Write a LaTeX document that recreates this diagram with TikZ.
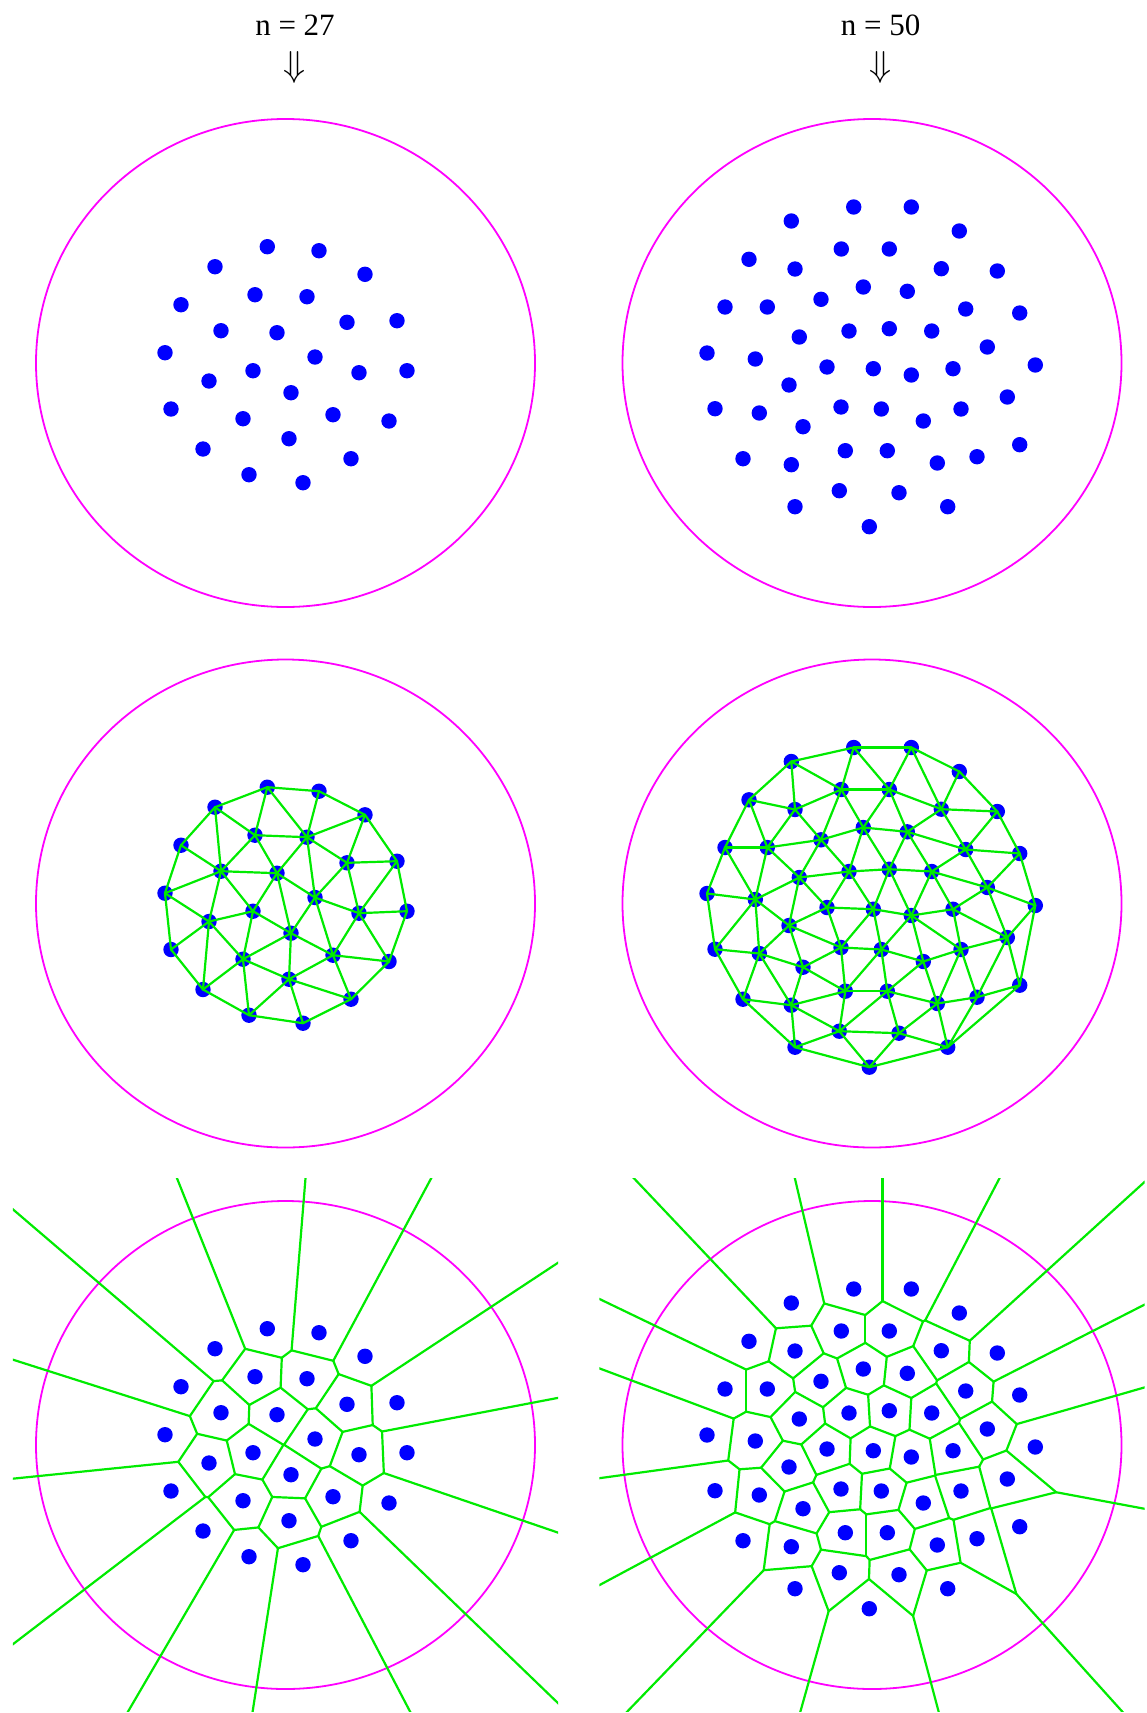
\documentclass[tikz,border=0pt]{standalone}
\usepackage{fontspec}
\usepackage{graphicx}
\setmainfont{Liberation Serif}
\usetikzlibrary{positioning}
\definecolor{siteblue}{RGB}{0,0,255}
\definecolor{linkgreen}{RGB}{0,235,0}
\definecolor{rimpink}{RGB}{255,0,255}
\tikzset{
  rim/.style={draw=rimpink, line width=1.8pt},
  site/.style={fill=siteblue},
  link/.style={draw=linkgreen, line width=2.2pt, line cap=round},
  caption/.style={font=\fontsize{31}{36}\selectfont, inner sep=0pt},
  downmark/.style={font=\fontsize{24.88}{28}\selectfont, inner sep=0pt}
}
\newcommand\bigdown{\scalebox{1.45}{$\Downarrow$}}
\makeatletter
\let\stripdim\strip@pt
\makeatother
\newdimen\sUx \newdimen\sUy \newdimen\sCr \newdimen\sNm
\newdimen\sCut \newdimen\sLo \newdimen\sHi
\let\linkitem\relax

% sites given in pixels, stored relative to the panel centre (rim radius = 1)
\newcommand\loadsites[4]{%
  \foreach \px/\py [count=\k] in {#4}{%
    \pgfmathsetmacro\sx{(\px-#2)/249.5}%
    \pgfmathsetmacro\sy{(#3-\py)/244}%
    \expandafter\xdef\csname #1x\k\endcsname{\sx}%
    \expandafter\xdef\csname #1y\k\endcsname{\sy}%
    \expandafter\xdef\csname #1n\endcsname{\k}%
  }%
}

% neighbour pairs and the piece of their bisector that is a cell wall
\newcommand\buildcells[1]{%
  \global\let\linkitem\relax
  \expandafter\gdef\csname #1edges\endcsname{}%
  \edef\nsites{\csname #1n\endcsname}%
  \pgfmathtruncatemacro\lastsite{\nsites-1}%
  \foreach \i in {1,...,\lastsite}{%
    \pgfmathtruncatemacro\nexti{\i+1}%
    \foreach \j in {\nexti,...,\nsites}{%
      \edef\pX{\csname #1x\i\endcsname}\edef\pY{\csname #1y\i\endcsname}%
      \edef\qX{\csname #1x\j\endcsname}\edef\qY{\csname #1y\j\endcsname}%
      \pgfmathsetmacro\vX{(\qX)-(\pX)}%
      \pgfmathsetmacro\vY{(\qY)-(\pY)}%
      \pgfmathsetmacro\vV{(\vX)*(\vX)+(\vY)*(\vY)}%
      \ifdim\vV pt<0.16pt
        \pgfmathsetmacro\vL{sqrt(\vV)}%
        \pgfmathsetmacro\dX{-(\vY)/\vL}%
        \pgfmathsetmacro\dY{(\vX)/\vL}%
        \global\sLo=-4pt \global\sHi=4pt
        \foreach \k in {1,...,\nsites}{%
          \ifnum\k=\i\relax\else\ifnum\k=\j\relax\else\ifdim\sLo<\sHi
            \sUx=\csname #1x\k\endcsname pt \advance\sUx by -\pX pt
            \sUy=\csname #1y\k\endcsname pt \advance\sUy by -\pY pt
            \sCr=\dX\sUx \advance\sCr by \dY\sUy
            \edef\uA{\stripdim\sUx}\edef\uB{\stripdim\sUy}%
            \sNm=\uA\sUx \advance\sNm by \uB\sUy
            \advance\sNm by -\vX\sUx \advance\sNm by -\vY\sUy
            \ifdim\sCr>0.0005pt
              \sCut=\numexpr\sNm*32768/\sCr\relax sp
              \ifdim\sCut<\sHi \global\sHi=\sCut \fi
            \else\ifdim\sCr<-0.0005pt
              \sCut=\numexpr\sNm*32768/\sCr\relax sp
              \ifdim\sCut>\sLo \global\sLo=\sCut \fi
            \else
              \ifdim\sNm<0pt \global\sLo=5pt \fi
            \fi\fi
          \fi\fi\fi
        }%
        \ifdim\sLo<\sHi
          \edef\tLo{\stripdim\sLo}\edef\tHi{\stripdim\sHi}%
          \pgfmathsetmacro\mX{((\pX)+(\qX))/2}%
          \pgfmathsetmacro\mY{((\pY)+(\qY))/2}%
          \pgfmathsetmacro\aX{\mX+(\tLo)*(\dX)}%
          \pgfmathsetmacro\aY{\mY+(\tLo)*(\dY)}%
          \pgfmathsetmacro\bX{\mX+(\tHi)*(\dX)}%
          \pgfmathsetmacro\bY{\mY+(\tHi)*(\dY)}%
          \expandafter\xdef\csname #1edges\endcsname{\csname #1edges\endcsname
            \linkitem{\i}{\j}{\aX}{\aY}{\bX}{\bY}}%
        \fi
      \fi
    }%
  }%
}

\newcommand\drawsites[2]{%
  \edef\nsites{\csname #1n\endcsname}%
  \foreach \k in {1,...,\nsites}{%
    \coordinate (#1#2-\k) at (\csname #1x\k\endcsname,\csname #1y\k\endcsname);
    \fill[site] (#1#2-\k) circle[radius=7.7pt];
  }%
}
\newcommand\drawlinks[2]{%
  \def\linkitem##1##2##3##4##5##6{\draw[link] (#1#2-##1) -- (#1#2-##2);}%
  \csname #1edges\endcsname
}
\newcommand\drawcells[1]{%
  \def\linkitem##1##2##3##4##5##6{\draw[link] (##3,##4) -- (##5,##6);}%
  \csname #1edges\endcsname
}

\begin{document}
\begin{tikzpicture}[x=1pt, y=-1pt]
  \useasboundingbox (0,0) rectangle (1146,1713);

  \loadsites{L}{285.5}{363}{267.3/246.7, 319/250.7, 215/266.7, 365/274.3,
    181/304.7, 255/294.7, 307/296.7, 221/330.7, 277/332.7, 347/322.3,
    397/320.7, 165/352.7, 315/357, 253/370.7, 209/381, 359/372.7,
    407/370.7, 291/392.7, 171/409, 243/418.7, 333/414.7, 389/421,
    203/449, 289/438.7, 351/458.7, 249/474.7, 303/482.7}
  \loadsites{R}{872}{363}{853.7/207, 911.3/207, 791.3/221, 959.3/231,
    841.3/249, 889.3/249, 749/259.3, 795/269, 941.3/268.7, 997.3/271,
    863.3/287, 907.3/291.3, 821/299.3, 725/307, 767.3/307, 965.7/309,
    1019.7/313, 849/331, 889.3/328.7, 931.7/331, 799.3/337, 987.3/347,
    707/353, 755.3/359, 827/367, 873.3/368.7, 911.3/375, 953/368.7,
    1035.3/365, 789/385, 1007.3/397, 715/408.7, 759.3/413, 841/407,
    881.3/409, 961/409, 923.3/421, 803/426.7, 1019.7/444.7, 743/458.7,
    845.3/450.7, 887.3/450.7, 977/456.7, 791.3/464.7, 937.3/463,
    839.3/490.7, 899/492.7, 795/506.7, 947.7/506.7, 869.3/526.7}
  \buildcells{L}
  \buildcells{R}

  \node[caption, anchor=base] (tL) at (295,35) {n = 27};
  \node[downmark] (dL) at (295,67.7) {\bigdown};
  \node[caption, anchor=base] (tR) at (880.5,35) {n = 50};
  \node[downmark] (dR) at (880.5,67.7) {\bigdown};

  % row 1: the sites
  \begin{scope}[shift={(285.5,363)}, x=249.5pt, y=244pt]
    \draw[rim] (0,0) circle[radius=1];
    \drawsites{L}{1}
  \end{scope}
  \begin{scope}[shift={(872,363)}, x=249.5pt, y=244pt]
    \draw[rim] (0,0) circle[radius=1];
    \drawsites{R}{1}
  \end{scope}

  % row 2: triangulation
  \begin{scope}[shift={(285.5,903.5)}, x=249.5pt, y=244pt]
    \draw[rim] (0,0) circle[radius=1];
    \drawsites{L}{2}
    \drawlinks{L}{2}
  \end{scope}
  \begin{scope}[shift={(872,903.5)}, x=249.5pt, y=244pt]
    \draw[rim] (0,0) circle[radius=1];
    \drawsites{R}{2}
    \drawlinks{R}{2}
  \end{scope}

  % row 3: cells
  \begin{scope}[shift={(285.5,1445)}, x=249.5pt, y=244pt]
    \draw[rim] (0,0) circle[radius=1];
    \drawsites{L}{3}
    \begin{scope}
      \clip (-1.093,-1.093) rectangle (1.093,1.093);
      \drawcells{L}
    \end{scope}
  \end{scope}
  \begin{scope}[shift={(872,1445)}, x=249.5pt, y=244pt]
    \draw[rim] (0,0) circle[radius=1];
    \drawsites{R}{3}
    \begin{scope}
      \clip (-1.093,-1.093) rectangle (1.093,1.093);
      \drawcells{R}
    \end{scope}
  \end{scope}
\end{tikzpicture}
\end{document}
